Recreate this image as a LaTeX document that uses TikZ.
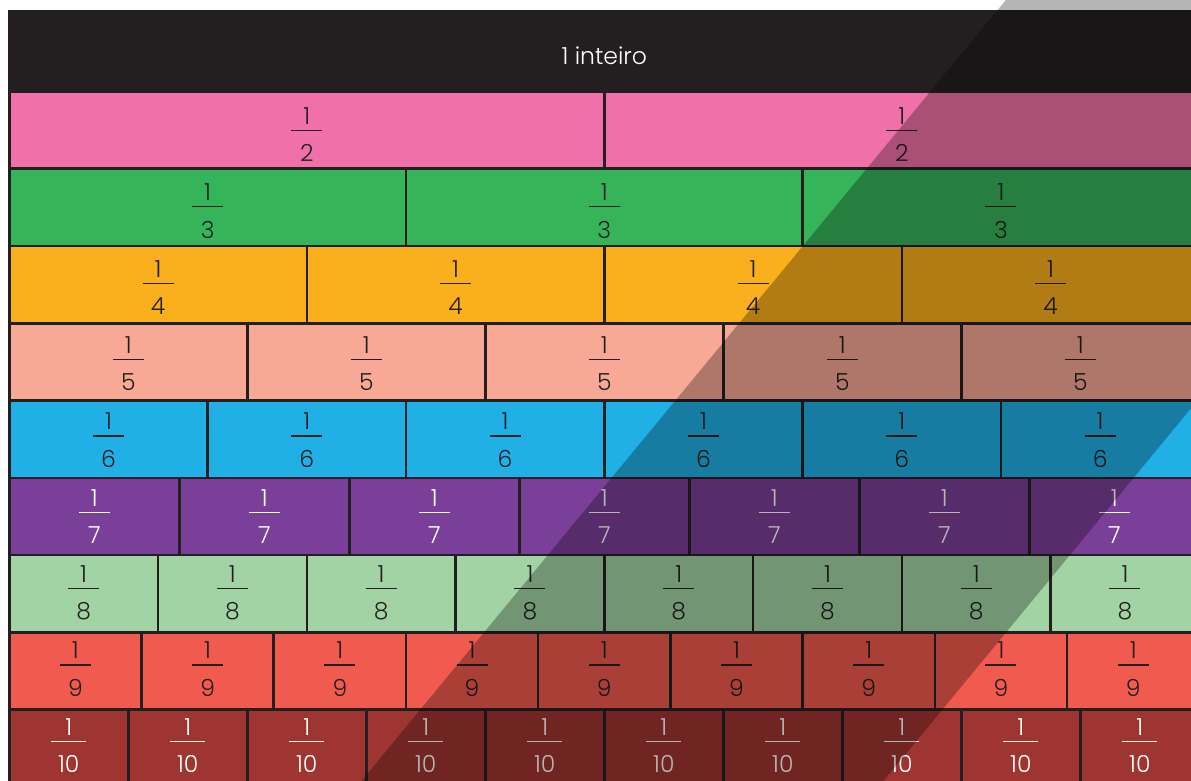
\documentclass[tikz,border=0pt]{standalone}
\usepackage{fontspec}
\setmainfont{Poppins}[UprightFont=* Light]
\usepackage{tikz}
\usetikzlibrary{positioning}

\definecolor{wall}{HTML}{231F20}
\definecolor{fpink}{HTML}{F071A9}
\definecolor{fgreen}{HTML}{36B45A}
\definecolor{forange}{HTML}{FAAF1C}
\definecolor{fsalmon}{HTML}{F7A996}
\definecolor{fblue}{HTML}{21B0E5}
\definecolor{fpurple}{HTML}{7A3F98}
\definecolor{fmint}{HTML}{A2D3A4}
\definecolor{fred}{HTML}{F05A4F}
\definecolor{fbrick}{HTML}{9E3530}

% stacked unit fraction 1 over #1
\newlength\frw
\newcommand{\fr}[1]{%
  \settowidth{\frw}{#1}\addtolength{\frw}{14pt}%
  \ifdim\frw<31pt \frw=31pt\fi
  \vbox{\offinterlineskip\halign{\hfil##\hfil\cr
    1\cr\noalign{\kern5.5pt}\rule{\frw}{1.5pt}\cr\noalign{\kern13.5pt}#1\cr}}}

\begin{document}
\begin{tikzpicture}[
    x=1pt, y=-1pt,
    every node/.style={font=\fontsize{23.5}{28}\selectfont},
    cell/.style={draw=wall, line width=2.6pt, inner sep=0pt,
      minimum height=77.3pt},
    whole/.style={draw=wall, fill=wall, line width=2.6pt,
      minimum width=1190pt, minimum height=80pt, inner sep=0pt}
  ]
    \useasboundingbox (0,0) rectangle (1191,780);
    \clip (0,0) rectangle (1191,780);
    \fill[white] (0,0) rectangle (1191,780);

    \node[whole, anchor=north west,
      label={[text=white, yshift=-4pt]center:1 inteiro}] (inteiro) at (8,10) {};

    % one row per denominator
    \foreach \n/\col/\ink in {2/fpink/wall, 3/fgreen/wall, 4/forange/wall,
        5/fsalmon/wall, 6/fblue/wall, 7/fpurple/white, 8/fmint/wall,
        9/fred/wall, 10/fbrick/white}{
      \pgfmathsetmacro\cw{1190/\n}
      \pgfmathsetmacro\rowy{90+(\n-2)*77.3}
      \pgfmathsetmacro\lift{0.9*(\n-2)-4.5}
      \foreach \i in {1,...,\n}{
        \node[cell, fill=\col, minimum width=\cw pt, anchor=north west,
          label={[text=\ink, yshift=\lift pt]center:\fr{\n}}]
          (c\n-\i) at ({8+(\i-1)*\cw},\rowy) {};
      }
    }

    % diagonal shade
    \fill[black, fill opacity=0.29] (1010,-5) -- (1532,-5) -- (876,790) -- (354,790) -- cycle;
  \end{tikzpicture}
\end{document}
